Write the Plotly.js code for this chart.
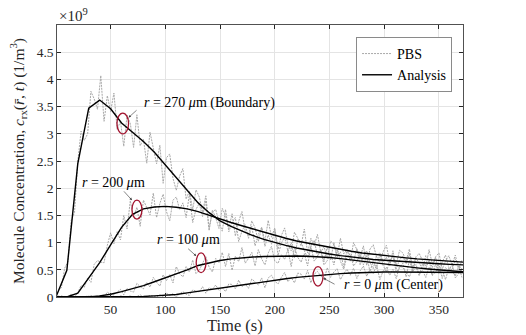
<!DOCTYPE html>
<html>
<head>
<meta charset="utf-8">
<script src="https://cdn.plot.ly/plotly-3.0.1.min.js"></script>
<style>
  body { margin: 0; background: #fff; }
  #chart { width: 526px; height: 335px; }
</style>
</head>
<body>
<div id="chart"></div>
<script>
// measured (PBS) samples, every 3 s, in units of 1e9 1/m^3
var tPbs = [2,5,8,11,14,17,20,23,26,29,32,35,38,41,44,47,50,53,56,59,62,65,68,71,74,77,80,83,86,89,
  92,95,98,101,104,107,110,113,116,119,122,125,128,131,134,137,140,143,146,149,152,155,158,161,164,167,170,173,176,179,
  182,185,188,191,194,197,200,203,206,209,212,215,218,221,224,227,230,233,236,239,242,245,248,251,254,257,260,263,266,269,
  272,275,278,281,284,287,290,293,296,299,302,305,308,311,314,317,320,323,326,329,332,335,338,341,344,347,350,353,356,359,
  362,365,368,371];

var pbs270 = [0.12,0.17,0.53,0.65,1.41,1.55,2.49,3.05,2.88,3.00,
  3.78,3.64,3.45,4.07,3.23,3.70,3.41,3.75,3.08,3.23,
  2.77,3.34,3.19,2.75,3.35,2.78,2.90,2.46,3.03,2.76,
  2.45,2.79,2.09,2.56,2.63,2.18,1.96,2.22,2.36,1.80,
  1.95,1.60,1.97,1.84,1.56,1.86,1.27,1.56,1.61,1.38,
  1.21,1.61,1.20,1.37,1.46,1.02,1.21,1.33,1.08,1.30,
  0.94,1.15,1.28,0.93,1.14,0.97,1.23,0.76,0.99,1.10,
  0.84,1.00,0.72,1.06,1.01,0.85,0.72,0.94,1.04,0.76,
  0.86,0.65,0.93,0.68,1.00,0.73,0.83,0.55,0.86,0.76,
  0.65,0.89,0.59,0.75,0.85,0.63,0.52,0.77,0.81,0.65,
  0.73,0.57,0.85,0.52,0.68,0.75,0.61,0.80,0.46,0.71,
  0.63,0.51,0.76,0.68,0.54,0.73,0.45,0.64,0.77,0.54,
  0.50,0.69,0.61,0.46];

var pbs200 = [0.02,0.00,0.01,0.00,0.06,0.00,0.08,0.21,0.18,0.35,
  0.27,0.60,0.67,0.64,0.63,0.95,1.18,0.98,1.20,1.05,
  1.50,1.25,1.77,1.47,1.65,1.30,1.78,1.66,1.51,1.91,
  1.46,1.72,1.89,1.57,1.40,1.78,1.84,1.61,1.73,1.46,
  1.90,1.37,1.61,1.72,1.48,1.77,1.22,1.60,1.46,1.26,
  1.63,1.49,1.26,1.53,1.12,1.39,1.57,1.21,1.13,1.40,
  1.27,1.02,1.28,1.02,1.41,1.10,1.27,0.88,1.13,1.27,
  0.97,0.85,1.19,1.08,0.94,1.25,0.81,1.08,0.94,1.15,
  0.82,0.93,0.70,1.03,0.97,0.74,1.08,0.79,0.87,0.66,
  1.00,0.87,0.72,0.94,0.58,0.88,0.96,0.74,0.64,0.83,
  0.95,0.64,0.77,0.59,0.86,0.81,0.66,0.88,0.52,0.74,
  0.80,0.67,0.56,0.87,0.60,0.74,0.81,0.51,0.66,0.76,
  0.59,0.77,0.50,0.68];

var pbs100 = [0.00,0.02,0.00,0.00,0.00,0.01,0.00,0.00,0.01,0.00,
  0.03,0.00,0.00,0.03,0.00,0.09,0.04,0.04,0.09,0.14,
  0.04,0.16,0.11,0.09,0.25,0.19,0.15,0.27,0.18,0.36,
  0.27,0.20,0.41,0.30,0.41,0.26,0.56,0.43,0.37,0.56,
  0.46,0.68,0.43,0.49,0.62,0.74,0.55,0.46,0.71,0.63,
  0.82,0.56,0.80,0.49,0.75,0.65,0.91,0.62,0.71,0.82,
  0.57,0.87,0.70,0.59,0.81,0.93,0.66,0.62,0.78,0.69,
  0.87,0.56,0.91,0.73,0.64,0.80,0.57,0.94,0.66,0.74,
  0.86,0.59,0.67,0.81,0.59,0.88,0.66,0.51,0.75,0.79,
  0.57,0.65,0.80,0.59,0.77,0.46,0.67,0.52,0.79,0.58,
  0.46,0.67,0.74,0.46,0.53,0.62,0.37,0.68,0.47,0.55,
  0.39,0.61,0.52,0.67,0.42,0.45,0.60,0.34,0.54,0.47,
  0.61,0.35,0.43,0.53];

var pbs0 = [0.00,0.01,0.00,0.00,0.01,0.01,0.00,0.01,0.00,0.02,
  0.00,0.00,0.01,0.00,0.02,0.00,0.01,0.00,0.00,0.02,
  0.01,0.00,0.02,0.00,0.01,0.04,0.00,0.00,0.03,0.02,
  0.00,0.04,0.01,0.07,0.03,0.06,0.00,0.06,0.10,0.05,
  0.03,0.13,0.11,0.09,0.19,0.07,0.17,0.14,0.22,0.12,
  0.17,0.10,0.24,0.23,0.15,0.31,0.19,0.24,0.16,0.33,
  0.28,0.22,0.35,0.17,0.35,0.40,0.29,0.24,0.36,0.45,
  0.28,0.36,0.26,0.44,0.42,0.33,0.49,0.26,0.42,0.47,
  0.39,0.32,0.54,0.36,0.46,0.52,0.32,0.43,0.51,0.40,
  0.53,0.34,0.48,0.57,0.38,0.51,0.43,0.59,0.32,0.48,
  0.55,0.40,0.51,0.34,0.57,0.54,0.45,0.37,0.52,0.60,
  0.42,0.49,0.36,0.55,0.39,0.61,0.43,0.50,0.32,0.53,
  0.47,0.39,0.57,0.36];

// analysis, every 10 s
var tAna = [0,10,20,30,40,50,60,70,80,90,100,110,120,130,140,150,160,170,180,190,
  200,210,220,230,240,250,260,270,280,290,300,310,320,330,340,350,360,370,380];
var ana270 = [0,0.49,2.45,3.47,3.62,3.46,3.20,3.03,2.86,2.66,2.43,2.18,1.95,1.73,1.55,1.40,1.30,1.21,1.13,1.06,
  1.00,0.95,0.90,0.86,0.82,0.79,0.76,0.735,0.71,0.69,0.675,0.66,0.645,0.63,0.62,0.61,0.60,0.59,0.585];
var ana200 = [0,0,0.07,0.34,0.63,0.96,1.28,1.52,1.62,1.655,1.665,1.65,1.62,1.57,1.50,1.43,1.37,1.31,1.25,1.19,
  1.13,1.08,1.03,0.99,0.95,0.91,0.87,0.84,0.81,0.785,0.76,0.74,0.72,0.70,0.685,0.67,0.655,0.64,0.63];
var ana100 = [0,0,0,0,0.02,0.05,0.10,0.15,0.21,0.28,0.35,0.42,0.50,0.58,0.63,0.67,0.70,0.72,0.735,0.745,
  0.75,0.755,0.755,0.75,0.74,0.725,0.705,0.68,0.655,0.63,0.60,0.58,0.555,0.535,0.515,0.495,0.48,0.465,0.45];
var ana0 = [0,0,0,0,0,0,0,0.005,0.01,0.02,0.03,0.045,0.075,0.105,0.13,0.16,0.19,0.22,0.25,0.28,
  0.31,0.335,0.36,0.38,0.40,0.415,0.43,0.44,0.45,0.455,0.46,0.46,0.46,0.46,0.46,0.46,0.455,0.455,0.45];

var xTicks = [50,100,150,200,250,300,350];
var yTicks = [0,0.5,1,1.5,2,2.5,3,3.5,4,4.5];
var yTickText = ['0','0.5','1','1.5','2','2.5','3','3.5','4','4.5'];

var pbsSeries = [pbs270, pbs200, pbs100, pbs0];
var anaSeries = [ana270, ana200, ana100, ana0];

var data = [];
pbsSeries.forEach(function(s, i) {
  data.push({
    x: tPbs, y: s, type: 'scatter', mode: 'lines', name: 'PBS',
    legendgroup: 'pbs', showlegend: i === 0,
    line: {color: '#a8a8a8', width: 1, dash: '2px,1px'},
    hoverinfo: 'skip'
  });
});
anaSeries.forEach(function(s, i) {
  data.push({
    x: tAna, y: s, type: 'scatter', mode: 'lines', name: 'Analysis',
    legendgroup: 'ana', showlegend: i === 0,
    line: {color: '#000000', width: 1.4},
    hoverinfo: 'skip'
  });
});

var serif = '"Liberation Serif", "DejaVu Serif", serif';
var red = '#a2142f';

function ring(x0, x1, y0, y1) {
  return {type: 'circle', xref: 'x', yref: 'y', x0: x0, x1: x1, y0: y0, y1: y1,
    line: {color: red, width: 1.3}};
}
function label(x, y, txt) {
  return {x: x, y: y, xref: 'x', yref: 'y', text: txt, showarrow: false,
    xanchor: 'left', yanchor: 'middle', font: {family: serif, size: 14, color: '#000'}};
}
function pointer(x, y, ax, ay) {
  return {x: x, y: y, xref: 'x', yref: 'y', text: ' ', showarrow: true, ax: ax, ay: ay,
    arrowhead: 2, arrowsize: 0.8, arrowwidth: 0.6, arrowcolor: '#333', standoff: 0, startstandoff: 0,
    font: {family: serif, size: 2}};
}

var layout = {
  width: 526, height: 335,
  margin: {l: 57, r: 63, t: 25, b: 38},
  paper_bgcolor: '#fff', plot_bgcolor: '#fff',
  font: {family: serif, size: 13, color: '#262626'},
  showlegend: true,
  legend: {x: 0.973, xanchor: 'right', y: 0.956, yanchor: 'top',
    bgcolor: '#fff', bordercolor: '#8a8a8a', borderwidth: 1,
    font: {family: serif, size: 14, color: '#000'}, itemwidth: 30, tracegroupgap: 0},
  xaxis: {range: [1, 372], tickvals: xTicks, ticks: 'inside', ticklen: 4, tickcolor: '#262626',
    showline: true, mirror: 'ticks', linecolor: '#262626', linewidth: 0.8,
    showgrid: true, gridcolor: '#e4e4e4', gridwidth: 1, zeroline: false,
    tickfont: {family: serif, size: 13.5, color: '#262626'}},
  yaxis: {range: [0, 5], tickvals: yTicks, ticktext: yTickText, ticks: 'inside', ticklen: 4, tickcolor: '#262626',
    showline: true, mirror: 'ticks', linecolor: '#262626', linewidth: 0.8,
    showgrid: true, gridcolor: '#e4e4e4', gridwidth: 1, zeroline: false,
    tickfont: {family: serif, size: 13.5, color: '#262626'},
    title: {text: 'Molecule Concentration, <i>c</i><sub>rx</sub>(<i>r\u0304</i>, <i>t</i>) (1/m<sup>3</sup>)',
      font: {family: serif, size: 15.5, color: '#262626'}, standoff: 8}},
  shapes: [
    ring(55.8, 66.4, 3.0, 3.38),
    ring(69.5, 78.6, 1.43, 1.78),
    ring(128.2, 137.1, 0.447, 0.81),
    ring(234.9, 244.1, 0.20, 0.557)
  ],
  annotations: [
    label(78.6, 3.57, '<i>r</i> = 270 <i>\u03bc</i>m (Boundary)'),
    label(22.2, 2.10, '<i>r</i> = 200 <i>\u03bc</i>m'),
    label(90.8, 1.06, '<i>r</i> = 100 <i>\u03bc</i>m'),
    label(261.4, 0.22, '<i>r</i> = 0 <i>\u03bc</i>m (Center)'),
    pointer(66.4, 3.30, 10, -9),
    pointer(69.5, 1.78, -10, -11),
    pointer(128.2, 0.754, -10, -9),
    pointer(244.6, 0.344, 13, 7),
    {x: 0, y: 1, xref: 'paper', yref: 'paper', xanchor: 'left', yanchor: 'bottom', yshift: -1,
      text: '\u00d710<sup>9</sup>', showarrow: false, font: {family: serif, size: 15, color: '#262626'}},
    {x: 0.438, y: 0, xref: 'paper', yref: 'paper', xanchor: 'center', yanchor: 'top', yshift: -17,
      text: 'Time (s)', showarrow: false, font: {family: serif, size: 16.5, color: '#262626'}}
  ]
};

Plotly.newPlot('chart', data, layout, {displayModeBar: false, staticPlot: true});
</script>
</body>
</html>
